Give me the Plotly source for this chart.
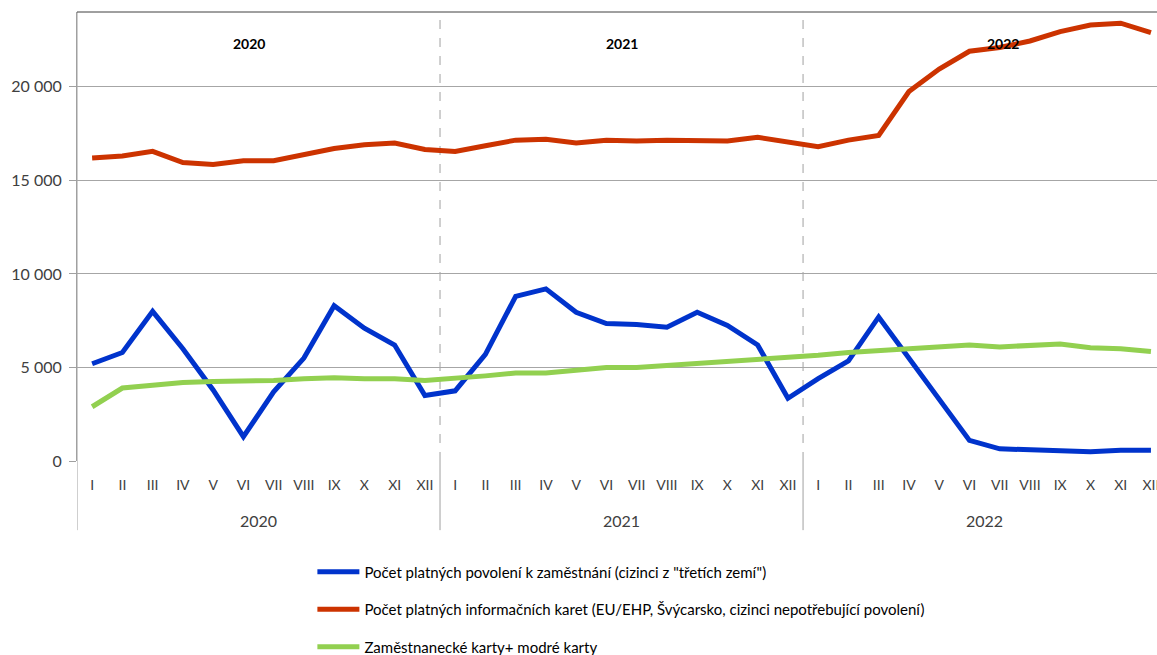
import plotly.graph_objects as go

# Monthly categories (three years, Roman-numeral months)
years = ["2020", "2021", "2022"]
months = ["I", "II", "III", "IV", "V", "VI", "VII", "VIII", "IX", "X", "XI", "XII"]

# Series values (persons)
povoleni = [5200, 5800, 8000, 6000, 3800, 1300, 3700, 5500, 8300, 7100, 6200, 3500,
            3750, 5700, 8800, 9200, 7950, 7350, 7300, 7150, 7950, 7250, 6200, 3350,
            4400, 5350, 7700, 5500, 3300, 1100, 650, 600, 600, 500, 580, 580]
informacni = [16200, 16300, 16550, 15950, 15850, 16050, 16050, 16350, 16700, 16900, 17000, 16650,
              16550, 16850, 17150, 17200, 17000, 17150, 17100, 17150, 17100, 17100, 17300, 17050,
              16800, 17150, 17400, 19750, 20950, 21900, 22100, 22450, 22950, 23300, 23400, 22900]
karty = [2900, 3900, 4050, 4200, 4250, 4250, 4300, 4400, 4450, 4400, 4400, 4300,
         4400, 4550, 4700, 4700, 4850, 5000, 5000, 5100, 5200, 5350, 5450, 5550,
         5650, 5800, 5900, 6000, 6100, 6200, 6100, 6150, 6250, 6050, 6000, 5850]

series_names = [
    "Počet platných povolení k zaměstnání (cizinci z \"třetích zemí\")",
    "Počet platných informačních karet (EU/EHP, Švýcarsko, cizinci nepotřebující povolení)",
    "Zaměstnanecké karty+ modré karty",
]
series_colors = ["#0033CC", "#CC3300", "#92D050"]

n_months = len(months)
x_idx = list(range(len(years) * n_months))
x_text = months * len(years)

FONT = "Lato, 'Open Sans', sans-serif"
TXT = "#404040"

fig = go.Figure()
for i, (name, vals, col) in enumerate(zip(series_names, [povoleni, informacni, karty], series_colors)):
    fig.add_trace(go.Scatter(
        x=x_idx, y=vals, mode="lines", name=name,
        line=dict(color=col, width=5), legendgroup=str(i),
        hoverinfo="skip",
    ))

# Year boundaries: dashed inside plot, solid below it
for k in range(1, len(years)):
    xb = k * n_months - 0.5
    fig.add_shape(type="line", xref="x", yref="paper", x0=xb, x1=xb, y0=0, y1=1,
                  line=dict(color="#a0a0a0", width=1, dash="dash"), layer="below")
for k in range(0, len(years)):
    xb = k * n_months - 0.5
    fig.add_shape(type="line", xref="x", yref="paper", x0=xb, x1=xb, y0=-0.154, y1=0 if k else 1,
                  line=dict(color="#a0a0a0", width=1), layer="below")

# Top border
fig.add_shape(type="line", xref="paper", yref="paper", x0=0, x1=1, y0=1, y1=1,
              line=dict(color="#404040", width=1))

# Year labels on top and under month labels
top_pos = [5.2, 17.5, 30.1]
for k, yr in enumerate(years):
    fig.add_annotation(x=top_pos[k], y=0.953, xref="x", yref="paper", text="<b>" + yr + "</b>",
                       showarrow=False, font=dict(family=FONT, size=14, color="#000000"))
    fig.add_annotation(x=k * n_months + (n_months - 1) / 2, y=-0.158, xref="x", yref="paper",
                       text=yr, showarrow=False, font=dict(family=FONT, size=16, color=TXT))

fig.update_layout(
    width=1157, height=655,
    margin=dict(l=77, r=0, t=12, b=194, autoexpand=False),
    paper_bgcolor="white", plot_bgcolor="white",
    separators=", ",
    font=dict(family=FONT, size=14, color=TXT),
    showlegend=True,
    legend=dict(x=0.27, y=0.152, xref="container", yref="container",
                xanchor="left", yanchor="top", orientation="v", itemwidth=42,
                tracegroupgap=15, font=dict(family=FONT, size=15, color="#000000"),
                bgcolor="rgba(0,0,0,0)"),
    xaxis=dict(range=[-0.5, 35.2], tickmode="array", tickvals=x_idx, ticktext=x_text,
               showgrid=False, zeroline=False, showline=False, ticks="",
               ticklabelstandoff=14, ticklabeloverflow="allow",
               tickfont=dict(family=FONT, size=14, color=TXT)),
    yaxis=dict(range=[0, 24000], tickvals=[0, 5000, 10000, 15000, 20000], tickformat=",d",
               showgrid=True, gridcolor="#a6a6a6", gridwidth=1, zeroline=False,
               showline=True, linecolor="#a0a0a0", linewidth=1,
               ticks="outside", ticklen=7, tickcolor="#a0a0a0", ticklabelstandoff=4,
               tickfont=dict(family=FONT, size=16, color=TXT)),
)

fig.write_html("out.html")
